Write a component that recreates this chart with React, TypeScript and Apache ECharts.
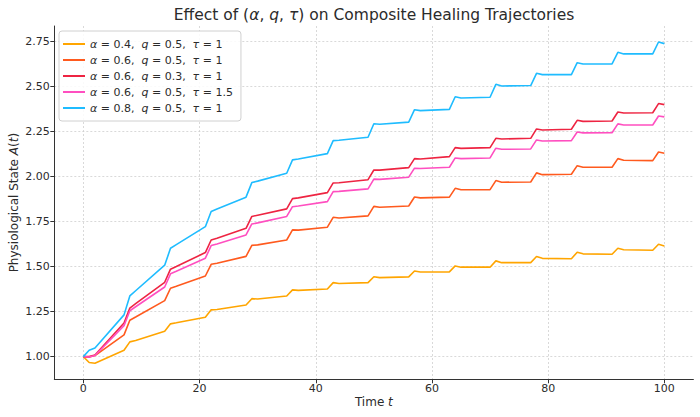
import React, { useEffect, useRef } from "react";
import * as echarts from "echarts";

const T = [0, 1, 2, 7, 8, 9, 14, 15, 16, 21, 22, 23, 28, 29, 30, 35, 36, 37, 42, 43, 44, 49, 50, 51, 56, 57, 58, 63, 64, 65, 70, 71, 72, 77, 78, 79, 84, 85, 86, 91, 92, 93, 98, 99, 100];

const a04 = [1.000, 0.967, 0.963, 1.035, 1.082, 1.090, 1.141, 1.182, 1.188, 1.219, 1.260, 1.262, 1.287, 1.322, 1.320, 1.337, 1.371, 1.368, 1.376, 1.411, 1.406, 1.411, 1.444, 1.439, 1.443, 1.476, 1.470, 1.471, 1.504, 1.497, 1.497, 1.532, 1.522, 1.522, 1.556, 1.546, 1.544, 1.580, 1.571, 1.569, 1.602, 1.594, 1.591, 1.624, 1.615];
const a06q05 = [1.000, 0.998, 1.006, 1.121, 1.202, 1.220, 1.311, 1.380, 1.391, 1.448, 1.513, 1.519, 1.557, 1.618, 1.621, 1.648, 1.704, 1.703, 1.719, 1.774, 1.770, 1.782, 1.835, 1.830, 1.837, 1.887, 1.882, 1.886, 1.935, 1.927, 1.928, 1.978, 1.969, 1.970, 2.021, 2.011, 2.013, 2.061, 2.052, 2.052, 2.100, 2.091, 2.089, 2.137, 2.130];
const a06q03 = [1.000, 1.000, 1.009, 1.187, 1.270, 1.294, 1.413, 1.486, 1.501, 1.578, 1.648, 1.658, 1.713, 1.779, 1.786, 1.821, 1.878, 1.882, 1.911, 1.965, 1.966, 1.983, 2.037, 2.036, 2.050, 2.100, 2.098, 2.111, 2.161, 2.157, 2.161, 2.213, 2.209, 2.213, 2.265, 2.259, 2.263, 2.313, 2.307, 2.309, 2.359, 2.354, 2.355, 2.406, 2.400];
const a06tau15 = [1.000, 0.998, 1.006, 1.172, 1.255, 1.277, 1.387, 1.460, 1.474, 1.547, 1.617, 1.626, 1.676, 1.737, 1.743, 1.779, 1.833, 1.837, 1.861, 1.917, 1.918, 1.932, 1.986, 1.985, 1.997, 2.047, 2.045, 2.052, 2.104, 2.100, 2.104, 2.158, 2.152, 2.154, 2.204, 2.198, 2.200, 2.248, 2.243, 2.244, 2.293, 2.287, 2.287, 2.337, 2.332];
const a08 = [1.000, 1.035, 1.048, 1.232, 1.337, 1.366, 1.508, 1.602, 1.622, 1.722, 1.806, 1.820, 1.886, 1.967, 1.975, 2.019, 2.093, 2.098, 2.128, 2.200, 2.202, 2.219, 2.294, 2.291, 2.303, 2.372, 2.367, 2.374, 2.444, 2.437, 2.441, 2.513, 2.504, 2.506, 2.574, 2.567, 2.567, 2.633, 2.626, 2.626, 2.691, 2.682, 2.682, 2.748, 2.739];

const seriesNames = ["a04", "a06q05", "a06q03", "a06tau15", "a08"];
const seriesLabels = [
  ["0.4", "0.5", "1"],
  ["0.6", "0.5", "1"],
  ["0.6", "0.3", "1"],
  ["0.6", "0.5", "1.5"],
  ["0.8", "0.5", "1"],
];
const seriesValues = [a04, a06q05, a06q03, a06tau15, a08];
const seriesColors = ["#FFA500", "#FF5A1E", "#EE2442", "#FF4FC0", "#1FBCFF"];

const xTicks = [0, 20, 40, 60, 80, 100];
const yTicks = [1.0, 1.25, 1.5, 1.75, 2.0, 2.25, 2.5, 2.75];

const FONT = "DejaVu Sans";
const TXT = "#2b2b2b";

export default function App() {
  const ref = useRef<HTMLDivElement>(null);
  useEffect(() => {
    if (!ref.current) return;
    const chart = echarts.init(ref.current, undefined, { renderer: "svg" });
    const series = seriesNames.map((name, i) => ({
      name,
      type: "line",
      data: T.map((t, j) => [t, seriesValues[i][j]]),
      showSymbol: false,
      symbol: "none",
      lineStyle: { color: seriesColors[i], width: 1.6 },
      itemStyle: { color: seriesColors[i] },
      z: 2 + i,
    }));
    const legendRich = {
      n: { fontFamily: FONT, fontSize: 11, color: TXT },
      i: { fontFamily: FONT, fontSize: 11, fontStyle: "italic", color: TXT },
    };
    const nameRich = {
      n: { fontFamily: FONT, fontSize: 12, color: TXT },
      i: { fontFamily: FONT, fontSize: 12, fontStyle: "italic", color: TXT },
    };
    chart.setOption({
      animation: false,
      backgroundColor: "#ffffff",
      grid: { left: 54.3, right: 6.6, top: 26, bottom: 37.7, containLabel: false, outerBoundsMode: "none" },
      graphic: [
        {
          type: "text",
          x: 374,
          y: 15,
          style: {
            text: "{n|Effect of (}{i|α}{n|, }{i|q}{n|, }{i|τ}{n|) on Composite Healing Trajectories}",
            align: "center",
            verticalAlign: "middle",
            rich: {
              n: { fontFamily: FONT, fontSize: 15.5, fill: TXT },
              i: { fontFamily: FONT, fontSize: 15.5, fontStyle: "italic", fill: TXT },
            },
          },
        },
      ],
      legend: {
        left: 59,
        top: 31,
        orient: "vertical",
        icon: "rect",
        itemWidth: 22,
        itemHeight: 2,
        itemGap: 2,
        padding: [6, 8, 6, 4],
        backgroundColor: "rgba(255,255,255,0.85)",
        borderColor: "#d0d0d0",
        borderWidth: 1,
        borderRadius: 3,
        textStyle: { fontFamily: FONT, fontSize: 11, lineHeight: 14, color: TXT, rich: legendRich },
        formatter: (name: string) => {
          const k = seriesNames.indexOf(name);
          const l = seriesLabels[k];
          return `{i|α}{n| = ${l[0]},  }{i|q}{n| = ${l[1]},  }{i|τ}{n| = ${l[2]}}`;
        },
        data: seriesNames,
      },
      xAxis: {
        type: "value",
        min: -5,
        max: 105,
        name: "{n|Time }{i|t}",
        nameLocation: "middle",
        nameGap: 17,
        nameMoveOverlap: false,
        nameTextStyle: { rich: nameRich },
        axisLine: { show: true, onZero: false, lineStyle: { color: "#333", width: 1 } },
        axisTick: { show: true, length: 4, lineStyle: { color: "#333" }, customValues: xTicks },
        axisLabel: {
          customValues: xTicks,
          fontFamily: FONT,
          fontSize: 11,
          color: TXT,
          margin: 4,
        },
        splitLine: { show: true, lineStyle: { color: "#cfcfcf", width: 0.8, type: [2, 2] } },
      },
      yAxis: {
        type: "value",
        min: 0.874,
        max: 2.837,
        name: "{n|Physiological State }{i|A}{n|(}{i|t}{n|)}",
        nameLocation: "middle",
        nameGap: 34,
        nameMoveOverlap: false,
        nameTextStyle: { rich: nameRich },
        axisLine: { show: true, onZero: false, lineStyle: { color: "#333", width: 1 } },
        axisTick: { show: true, length: 4, lineStyle: { color: "#333" }, customValues: yTicks },
        axisLabel: {
          customValues: yTicks,
          fontFamily: FONT,
          fontSize: 11,
          color: TXT,
          margin: 4.5,
          formatter: (v: number) => v.toFixed(2),
        },
        splitLine: { show: true, lineStyle: { color: "#cfcfcf", width: 0.8, type: [2, 2] } },
      },
      series,
    });
    return () => chart.dispose();
  }, []);
  return (
    <div
      ref={ref}
      style={{ position: "fixed", left: 0, top: 0, width: 700, height: 417 }}
    />
  );
}
